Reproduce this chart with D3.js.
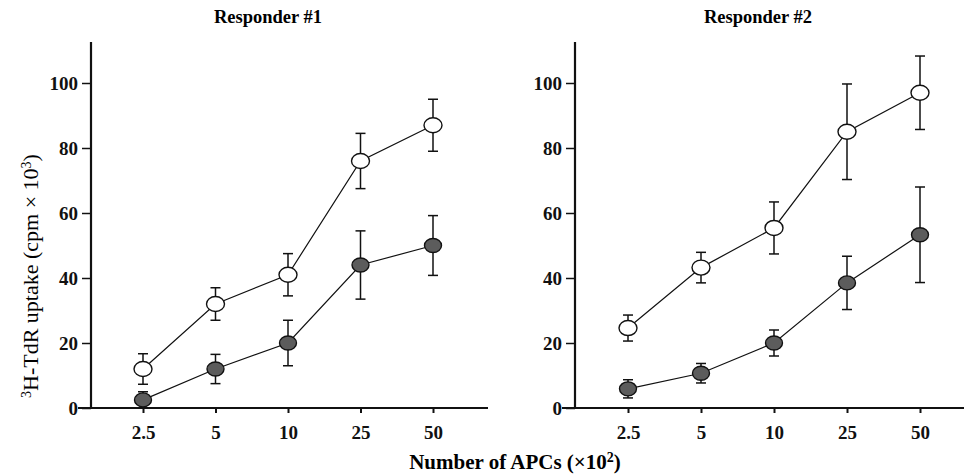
<!DOCTYPE html>
<html>
<head>
<meta charset="utf-8">
<script src="https://cdn.jsdelivr.net/npm/d3@7"></script>
<style>
	body { margin: 0; background: #fff; }
	svg { display: block; font-family: 'Liberation Serif', 'Times New Roman', serif; }
	.tick text { font-weight: bold; font-size: 19px; fill: #111; }
	.tick line, .axis-line { stroke: #111; }
</style>
</head>
<body>
<svg width="964" height="474"></svg>
<script>
'use strict'

// Data
const categories = ['2.5', '5', '10', '25', '50']
const yTicks = [0, 20, 40, 60, 80, 100]

const r1Open = [12, 32, 41, 76, 87]
const r1OpenErr = [4.7, 5, 6.5, 8.5, 8]
const r1Filled = [2.5, 12, 20, 44, 50]
const r1FilledErr = [2.5, 4.5, 7, 10.5, 9.2]

const r2Open = [24.6, 43.2, 55.4, 85, 97]
const r2OpenErr = [4, 4.7, 8, 14.7, 11.3]
const r2Filled = [5.9, 10.7, 20, 38.5, 53.3]
const r2FilledErr = [2.8, 3, 4, 8.2, 14.7]

const svg = d3.select('svg')

const y = d3.scaleLinear().domain([0, 100]).range([408, 83])
const yTop = 42

const panels = [
	{ title: 'Responder #1', titleX: 268, ax: 91, range: [143, 433], line: [78, 488],
		open: r1Open, openErr: r1OpenErr, filled: r1Filled, filledErr: r1FilledErr },
	{ title: 'Responder #2', titleX: 758, ax: 575, range: [628, 920], line: [562, 964],
		open: r2Open, openErr: r2OpenErr, filled: r2Filled, filledErr: r2FilledErr },
]

panels.forEach((p) => {
	const g = svg.append('g')
	const x = d3.scalePoint().domain(categories).range(p.range)

	// Title
	g.append('text')
		.attr('x', p.titleX).attr('y', 23)
		.attr('text-anchor', 'middle')
		.style('font-weight', 'bold').style('font-size', '18.5px')
		.text(p.title)

	// Y axis
	const yAxis = g.append('g')
		.attr('transform', `translate(${p.ax},0)`)
		.call(d3.axisLeft(y).tickValues(yTicks).tickSize(9).tickPadding(4).tickSizeOuter(0))
		.attr('font-family', null).attr('font-size', null)
	yAxis.select('.domain').remove()
	yAxis.selectAll('.tick line').attr('stroke-width', 1.5)
	g.append('line').attr('class', 'axis-line')
		.attr('x1', p.ax).attr('x2', p.ax)
		.attr('y1', yTop).attr('y2', y(0))
		.attr('stroke-width', 2.2)

	// X axis
	const xAxis = g.append('g')
		.attr('transform', `translate(0,${y(0)})`)
		.call(d3.axisBottom(x).tickSize(5).tickPadding(13).tickSizeOuter(0))
		.attr('font-family', null).attr('font-size', null)
	xAxis.select('.domain').remove()
	xAxis.selectAll('.tick line').attr('stroke-width', 2)
	g.append('line').attr('class', 'axis-line')
		.attr('x1', p.line[0]).attr('x2', p.line[1])
		.attr('y1', y(0)).attr('y2', y(0))
		.attr('stroke-width', 2)

	const series = [
		{ vals: p.filled, errs: p.filledErr, fill: '#5c5c5c', rx: 8.5, ry: 7 },
		{ vals: p.open, errs: p.openErr, fill: '#fff', rx: 9, ry: 7.5 },
	]

	series.forEach((s) => {
		const pts = categories.map((c, i) => ({ c: c, v: s.vals[i], e: s.errs[i] }))

		// Connecting line
		g.append('path')
			.datum(pts)
			.attr('fill', 'none').attr('stroke', '#111').attr('stroke-width', 1.2)
			.attr('d', d3.line().x((d) => x(d.c)).y((d) => y(d.v)))

		// Error bars
		const eb = g.selectAll(null).data(pts).enter().append('g')
			.attr('stroke', '#111').attr('stroke-width', 1.5)
		eb.append('line')
			.attr('x1', (d) => x(d.c)).attr('x2', (d) => x(d.c))
			.attr('y1', (d) => y(d.v + d.e)).attr('y2', (d) => y(Math.max(0, d.v - d.e)))
		eb.append('line')
			.attr('x1', (d) => x(d.c) - 5).attr('x2', (d) => x(d.c) + 5)
			.attr('y1', (d) => y(d.v + d.e)).attr('y2', (d) => y(d.v + d.e))
		eb.append('line')
			.attr('x1', (d) => x(d.c) - 5).attr('x2', (d) => x(d.c) + 5)
			.attr('y1', (d) => y(Math.max(0, d.v - d.e))).attr('y2', (d) => y(Math.max(0, d.v - d.e)))

		// Markers
		g.selectAll(null).data(pts).enter().append('ellipse')
			.attr('cx', (d) => x(d.c)).attr('cy', (d) => y(d.v))
			.attr('rx', s.rx).attr('ry', s.ry)
			.attr('fill', s.fill).attr('stroke', '#111').attr('stroke-width', 1.4)
	})
})

// Y axis label
const yl = svg.append('text')
	.attr('transform', 'translate(38,276) rotate(-90)')
	.attr('text-anchor', 'middle')
	.style('font-size', '22px')
yl.append('tspan').attr('baseline-shift', 'super').style('font-size', '14px').text('3')
yl.append('tspan').text('H-TdR uptake (cpm × 10')
yl.append('tspan').attr('baseline-shift', 'super').style('font-size', '14px').text('3')
yl.append('tspan').text(')')

// X axis label
const xl = svg.append('text')
	.attr('x', 515).attr('y', 469)
	.attr('text-anchor', 'middle')
	.style('font-weight', 'bold').style('font-size', '21px')
xl.append('tspan').text('Number of APCs (×10')
xl.append('tspan').attr('baseline-shift', 'super').style('font-size', '14px').text('2')
xl.append('tspan').text(')')
</script>
</body>
</html>
